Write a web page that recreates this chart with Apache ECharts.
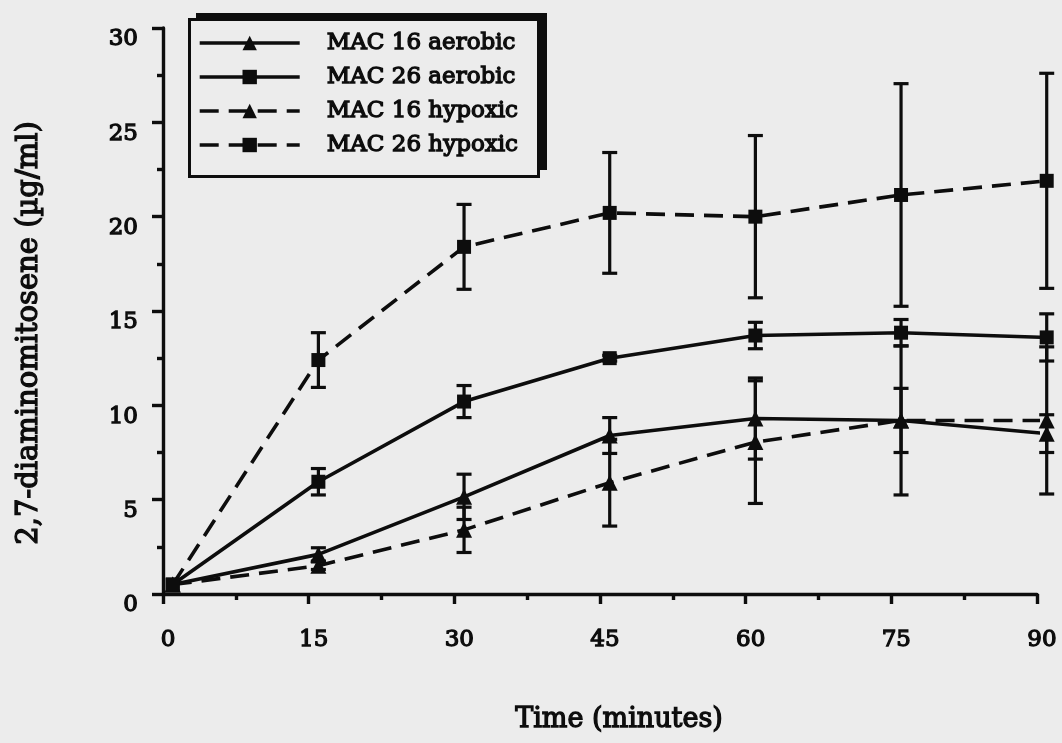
<!DOCTYPE html>
<html>
<head>
<meta charset="utf-8">
<script src="https://cdn.jsdelivr.net/npm/echarts@6/dist/echarts.min.js"></script>
<style>
  html, body { margin: 0; padding: 0; background: #ececec; }
  #chart { width: 1062px; height: 743px; }
</style>
</head>
<body>
<div id="chart"></div>
<script>
// Sampling times (minutes)
const times = [1, 16, 31, 46, 61, 76, 91];

// 2,7-diaminomitosene (µg/ml), mean values
const mac16Aerobic = [0.5, 2.1, 5.15, 8.4, 9.3, 9.2, 8.5];
const mac26Aerobic = [0.5, 5.95, 10.2, 12.5, 13.7, 13.85, 13.6];
const mac16Hypoxic = [0.5, 1.5, 3.4, 5.9, 8.05, 9.2, 9.2];
const mac26Hypoxic = [0.5, 12.4, 18.4, 20.2, 20.0, 21.15, 21.9];

// Error bar half-widths
const mac16AerobicErr = [0, 0.35, 1.2, 0.95, 2.15, 1.7, 1.0];
const mac26AerobicErr = [0, 0.7, 0.85, 0.15, 0.7, 0.7, 1.25];
const mac16HypoxicErr = [0, 0.2, 1.2, 2.3, 3.25, 3.95, 3.9];
const mac26HypoxicErr = [0, 1.45, 2.25, 3.2, 4.3, 5.9, 5.7];

const xTicks = [0, 15, 30, 45, 60, 75, 90];
const yTicks = [0, 5, 10, 15, 20, 25, 30];

const INK = '#0d0d0d';
const BG = '#ececec';
const FONT = 'DejaVu Serif';
// stroke around glyphs gives the heavier print look
const heavy = { textBorderColor: INK, textBorderWidth: 1.3 };

const groups = [
  { name: 'MAC 16 aerobic', values: mac16Aerobic, err: mac16AerobicErr, symbol: 'triangle', size: 16, dashed: false },
  { name: 'MAC 26 aerobic', values: mac26Aerobic, err: mac26AerobicErr, symbol: 'rect', size: 14, dashed: false },
  { name: 'MAC 16 hypoxic', values: mac16Hypoxic, err: mac16HypoxicErr, symbol: 'triangle', size: 16, dashed: true },
  { name: 'MAC 26 hypoxic', values: mac26Hypoxic, err: mac26HypoxicErr, symbol: 'rect', size: 14, dashed: true }
];

function renderErrorBar(params, api) {
  const x = api.value(0);
  const lo = api.coord([x, api.value(1)]);
  const hi = api.coord([x, api.value(2)]);
  const w = 7.5;
  const style = { stroke: INK, lineWidth: 3.2 };
  return {
    type: 'group',
    children: [
      { type: 'line', shape: { x1: hi[0], y1: hi[1], x2: lo[0], y2: lo[1] }, style },
      { type: 'line', shape: { x1: hi[0] - w, y1: hi[1], x2: hi[0] + w, y2: hi[1] }, style },
      { type: 'line', shape: { x1: lo[0] - w, y1: lo[1], x2: lo[0] + w, y2: lo[1] }, style }
    ]
  };
}

const series = [];
groups.forEach(g => {
  series.push({
    name: g.name,
    type: 'line',
    data: times.map((t, i) => [t, g.values[i]]),
    symbol: g.symbol,
    symbolSize: g.size,
    showAllSymbol: true,
    clip: false,
    color: INK,
    itemStyle: { color: INK },
    lineStyle: { color: INK, width: 3.6, type: g.dashed ? [19, 10] : 'solid' },
    z: 3
  });
  series.push({
    name: g.name + ' error',
    type: 'custom',
    renderItem: renderErrorBar,
    clip: false,
    data: times.map((t, i) => [t, g.values[i] - g.err[i], g.values[i] + g.err[i]])
                .filter((d, i) => g.err[i] > 0),
    encode: { x: 0, y: [1, 2] },
    z: 2
  });
});

const axisStroke = { color: INK, width: 3.4 };

const chart = echarts.init(document.getElementById('chart'), null, { renderer: 'canvas' });
chart.setOption({
  animation: false,
  backgroundColor: BG,
  textStyle: { fontFamily: FONT, color: INK },
  grid: { left: 163, right: 25, top: 28, bottom: 149, containLabel: false },
  // legend frame with its offset drop shadow
  graphic: [
    { type: 'rect', z: 1, left: 196, top: 13, shape: { width: 351, height: 157 }, style: { fill: INK } },
    { type: 'rect', z: 2, left: 188, top: 18, shape: { width: 349, height: 157 },
      style: { fill: BG, stroke: INK, lineWidth: 3 } }
  ],
  legend: {
    data: groups.map(g => g.name),
    orient: 'vertical',
    z: 10,
    left: 188,
    top: 18,
    padding: [12, 22, 18, 10],
    itemWidth: 100,
    itemHeight: 18,
    itemGap: 8,
    selectedMode: false,
    lineStyle: { width: 3.4 },
    textStyle: Object.assign({ fontFamily: FONT, fontSize: 23, color: INK, lineHeight: 26, padding: [0, 0, 0, 22] }, heavy)
  },
  xAxis: {
    type: 'value',
    min: 0,
    max: 90,
    interval: 15,
    name: 'Time (minutes)',
    nameLocation: 'middle',
    nameGap: 112,
    nameTextStyle: Object.assign({ fontFamily: FONT, fontSize: 27, color: INK, padding: [0, 0, 0, 38] }, heavy),
    axisLine: { show: true, onZero: false, lineStyle: axisStroke },
    axisTick: { show: true, inside: false, length: 10, lineStyle: axisStroke },
    minorTick: { show: true, splitNumber: 2, length: 6, lineStyle: axisStroke },
    splitLine: { show: false },
    axisLabel: Object.assign({
      fontFamily: FONT, fontSize: 23, color: INK, margin: 35, padding: [0, 0, 0, 10],
      formatter: v => (xTicks.indexOf(v) >= 0 ? String(v) : '')
    }, heavy)
  },
  yAxis: {
    type: 'value',
    min: 0,
    max: 30,
    interval: 5,
    name: '2,7-diaminomitosene (µg/ml)',
    nameLocation: 'middle',
    nameGap: 119,
    nameTextStyle: Object.assign({ fontFamily: FONT, fontSize: 29, color: INK, padding: [0, 44, 0, 0] }, heavy),
    axisLine: { show: true, onZero: false, lineStyle: axisStroke },
    axisTick: { show: true, inside: false, length: 11, lineStyle: axisStroke },
    minorTick: { show: true, splitNumber: 2, length: 6, lineStyle: axisStroke },
    splitLine: { show: false },
    axisLabel: Object.assign({
      fontFamily: FONT, fontSize: 23, color: INK, margin: 25, verticalAlign: 'top',
      formatter: v => (yTicks.indexOf(v) >= 0 ? String(v) : '')
    }, heavy)
  },
  series: series
});
</script>
</body>
</html>
